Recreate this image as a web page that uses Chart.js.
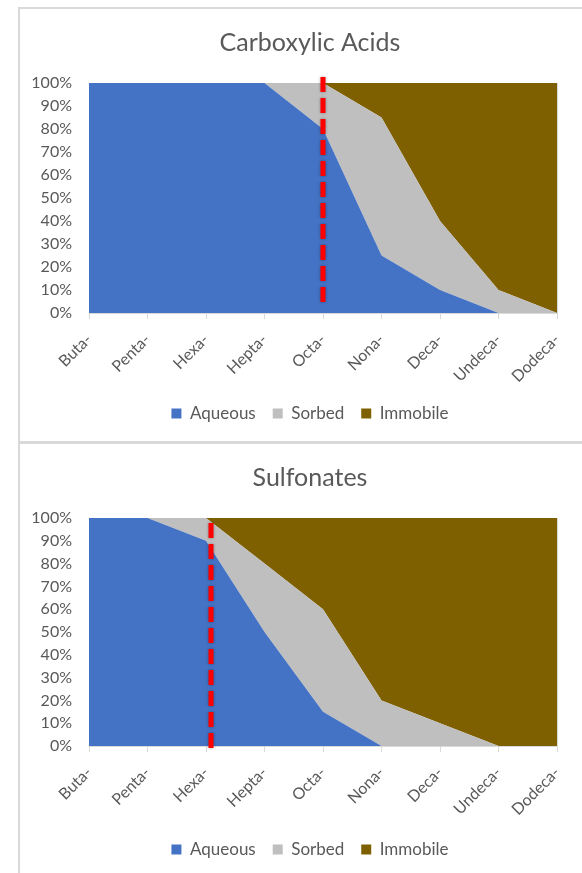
<!DOCTYPE html>
<html>
<head>
<meta charset="utf-8">
<script src="https://cdn.jsdelivr.net/npm/chart.js@4/dist/chart.umd.min.js"></script>
<style>
    body { margin: 0; background: #fff; overflow: hidden; }
    #wrap { position: absolute; left: 18px; top: 7px; border-left: 2px solid #d9d9d9; border-top: 2px solid #d9d9d9; width: 600px; }
    .sep { height: 3px; background: #d9d9d9; }
    canvas { display: block; }
</style>
</head>
<body>
<div id="wrap">
    <canvas id="carbChart" width="580" height="432"></canvas>
    <div class="sep"></div>
    <canvas id="sulfChart" width="580" height="429"></canvas>
</div>
<script>
const categories = ['Buta-', 'Penta-', 'Hexa-', 'Hepta-', 'Octa-', 'Nona-', 'Deca-', 'Undeca-', 'Dodeca-'];
const seriesNames = ['Aqueous', 'Sorbed', 'Immobile'];

// percentages (each column sums to 100)
const carbAqueous = [100, 100, 100, 100, 80, 25, 10, 0, 0];
const carbSorbed = [0, 0, 0, 0, 20, 60, 30, 10, 0];
const carbImmobile = [0, 0, 0, 0, 0, 15, 60, 90, 100];

const sulfAqueous = [100, 100, 90, 50, 15, 0, 0, 0, 0];
const sulfSorbed = [0, 0, 10, 30, 45, 20, 10, 0, 0];
const sulfImmobile = [0, 0, 0, 20, 40, 80, 90, 100, 100];

const yTicks = [0, 10, 20, 30, 40, 50, 60, 70, 80, 90, 100];

const colors = ['#4472C4', '#BFBFBF', '#7F6000'];
const textColor = '#595959';
const fontFamily = 'Lato, "Open Sans", sans-serif';

// red dashed marker line at a category
const markerLine = {
    id: 'markerLine',
    afterDatasetsDraw(chart, args, opts) {
        const ctx = chart.ctx;
        const area = chart.chartArea;
        const x = chart.scales.x.getPixelForValue(opts.index) + opts.dx;
        ctx.save();
        ctx.strokeStyle = '#FF0000';
        ctx.lineWidth = 5;
        ctx.setLineDash([15, 6]);
        ctx.shadowColor = 'rgba(0,0,0,0.35)';
        ctx.shadowBlur = 3;
        ctx.beginPath();
        ctx.moveTo(x, area.top + opts.top);
        ctx.lineTo(x, area.bottom + opts.bottom);
        ctx.stroke();
        ctx.restore();
    }
};

function renderAreaChart(id, title, values, marker, padBottom, xHeight) {
    const ctx = document.getElementById(id).getContext('2d');
    new Chart(ctx, {
        type: 'line',
        data: {
            labels: categories,
            datasets: values.map((v, i) => ({
                label: seriesNames[i],
                data: v,
                backgroundColor: colors[i],
                borderWidth: 0,
                pointRadius: 0,
                fill: i === 0 ? 'origin' : '-1'
            }))
        },
        options: {
            responsive: false,
            animation: false,
            layout: { padding: { left: 0, right: 0, top: 0, bottom: padBottom } },
            plugins: {
                title: {
                    display: true,
                    text: title,
                    color: textColor,
                    font: { family: fontFamily, size: 25, weight: 'normal' },
                    padding: { top: 19, bottom: 25 }
                },
                legend: {
                    position: 'bottom',
                    labels: {
                        color: textColor,
                        font: { family: fontFamily, size: 17 },
                        boxWidth: 10,
                        boxHeight: 10,
                        padding: 17
                    }
                },
                tooltip: { enabled: false },
                markerLine: marker
            },
            scales: {
                x: {
                    grid: { color: '#d9d9d9', tickLength: 6 },
                    border: { color: '#d9d9d9' },
                    ticks: {
                        color: textColor,
                        font: { family: fontFamily, size: 16 },
                        maxRotation: 45,
                        minRotation: 45,
                        padding: 11
                    },
                    afterFit(scale) { scale.height = xHeight; }
                },
                y: {
                    stacked: true,
                    min: 0,
                    max: 100,
                    afterBuildTicks(scale) { scale.ticks = yTicks.map(v => ({ value: v })); },
                    grid: { color: '#d9d9d9', drawTicks: false },
                    border: { display: false },
                    ticks: {
                        color: textColor,
                        font: { family: fontFamily, size: 16 },
                        padding: 17,
                        callback: v => v + '%'
                    },
                    afterFit(scale) { scale.width = 69; }
                },
                // empty right-hand axis, only keeps space so title/legend stay centred on the whole box
                spacer: {
                    type: 'linear',
                    position: 'right',
                    grid: { drawOnChartArea: false, drawTicks: false },
                    border: { display: false },
                    ticks: { display: false },
                    afterFit(scale) { scale.width = 43; }
                }
            }
        },
        plugins: [markerLine]
    });
}

renderAreaChart('carbChart', 'Carboxylic Acids', [carbAqueous, carbSorbed, carbImmobile], { index: 4, dx: 0, top: -6, bottom: -7 }, 9, 75);
renderAreaChart('sulfChart', 'Sulfonates', [sulfAqueous, sulfSorbed, sulfImmobile], { index: 2, dx: 5, top: 5, bottom: 5 }, 5, 78);
</script>
</body>
</html>
